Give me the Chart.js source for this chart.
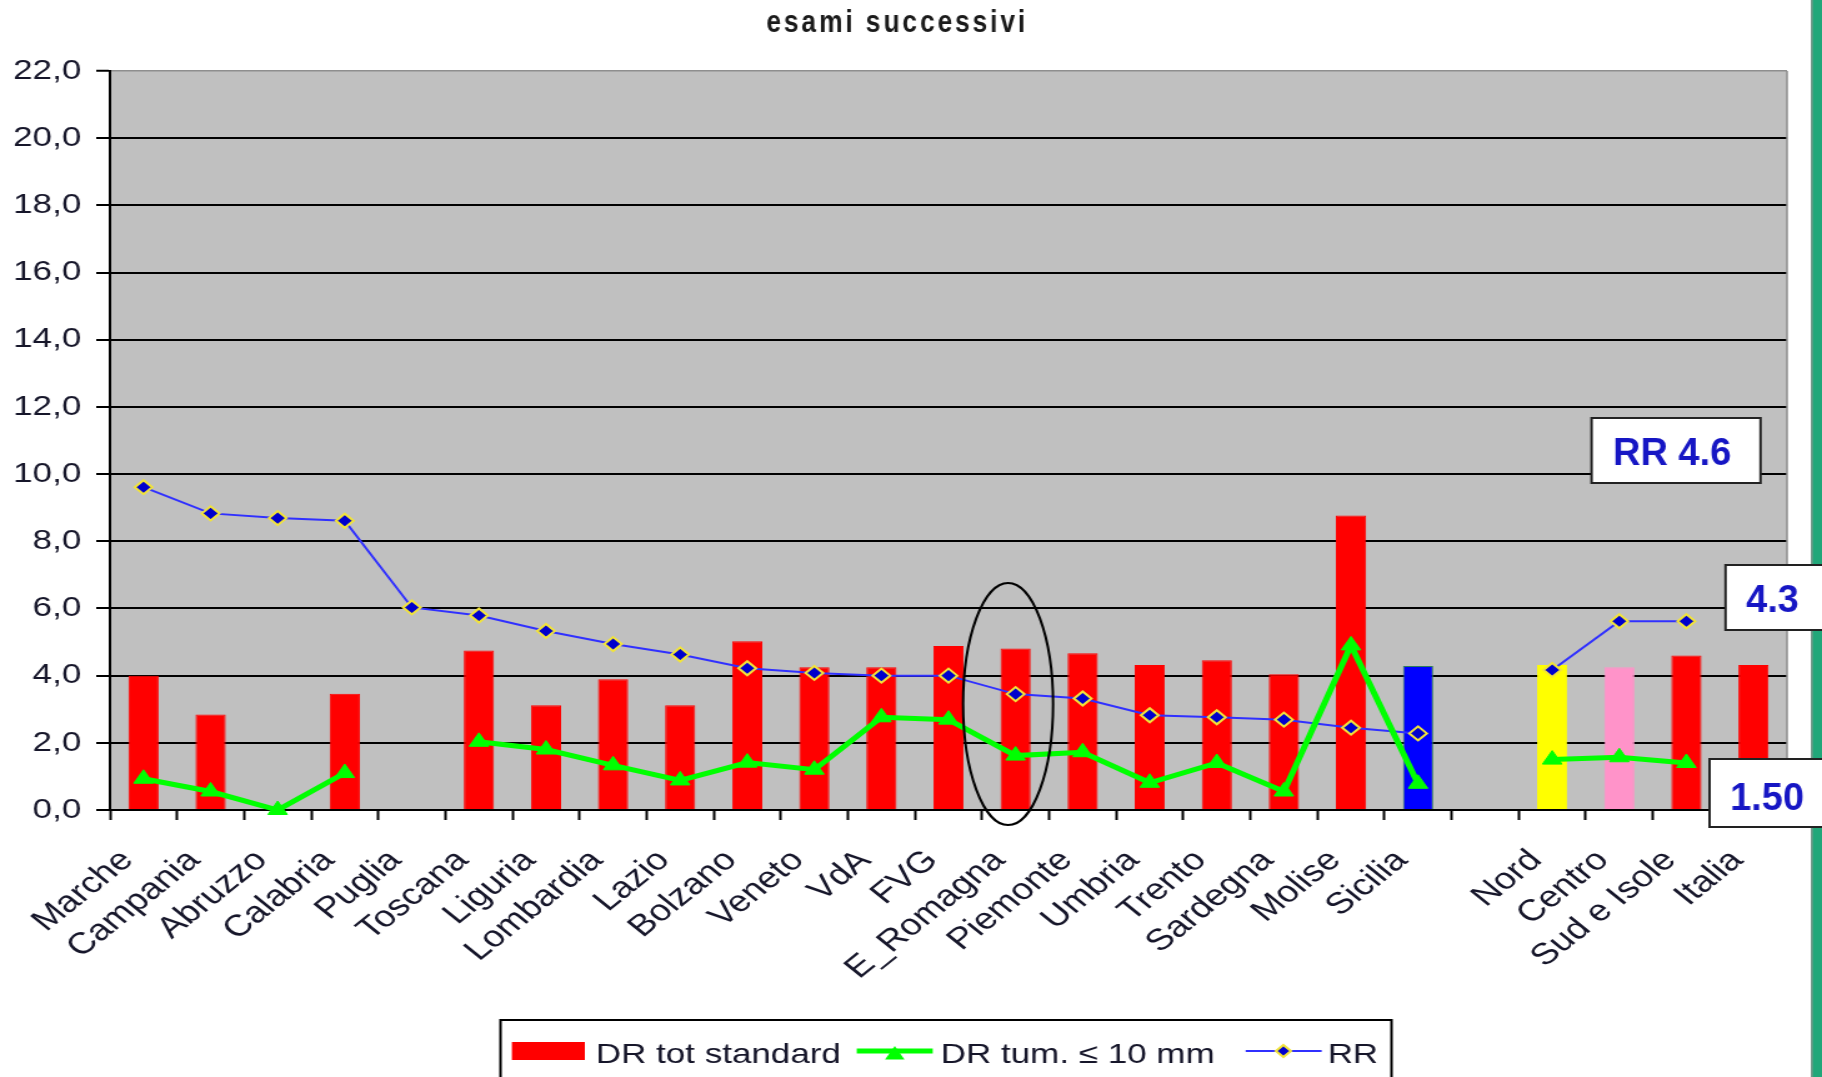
<!DOCTYPE html>
<html lang="it">
<head>
<meta charset="utf-8">
<title>esami successivi</title>
<script src="https://cdn.jsdelivr.net/npm/chart.js"></script>
<style>
  html, body { margin: 0; padding: 0; background: #fff; overflow: hidden; }
</style>
</head>
<body>
<!-- the source picture is stretched 1.25x horizontally, so the canvas is drawn narrow and stretched by CSS -->
<canvas id="chart" width="1458" height="1077" style="display:block;width:1822px;height:1077px"></canvas>
<script>
const categories = ['Marche', 'Campania', 'Abruzzo', 'Calabria', 'Puglia', 'Toscana', 'Liguria', 'Lombardia',
    'Lazio', 'Bolzano', 'Veneto', 'VdA', 'FVG', 'E_Romagna', 'Piemonte', 'Umbria', 'Trento', 'Sardegna',
    'Molise', 'Sicilia', '', 'Nord', 'Centro', 'Sud e Isole', 'Italia'];

const drTotStandard = [4.0, 2.84, null, 3.46, null, 4.75, 3.12, 3.89, 3.12, 5.02, 4.25, 4.25, 4.88, 4.81,
    4.67, 4.32, 4.46, 4.04, 8.77, 4.29, null, 4.32, 4.25, 4.6, 4.32];

const drTum10 = [0.93, 0.55, 0.0, 1.1, null, 2.03, 1.8, 1.33, 0.88, 1.41, 1.2, 2.76, 2.69, 1.62,
    1.72, 0.81, 1.4, 0.55, 4.9, 0.78, null, 1.5, 1.57, 1.4, null];

const rr = [9.61, 8.83, 8.69, 8.61, 6.03, 5.79, 5.33, 4.94, 4.63, 4.22, 4.08, 4.0, 4.0, 3.45,
    3.32, 2.82, 2.76, 2.69, 2.45, 2.28, null, 4.17, 5.62, 5.62, null];

const yTickValues = [0, 2, 4, 6, 8, 10, 12, 14, 16, 18, 20, 22];
const yTickLabels = ['0,0', '2,0', '4,0', '6,0', '8,0', '10,0', '12,0', '14,0', '16,0', '18,0', '20,0', '22,0'];

const chartTitle = 'esami successivi';
const boxLabels = ['RR 4.6', '4.3', '1.50'];

// colours of the bars (Sicilia, Nord and Centro stand out)
const barColors = categories.map(c => {
    if (c === 'Sicilia') return '#0000ff';
    if (c === 'Nord') return '#ffff00';
    if (c === 'Centro') return '#ff93c9';
    return '#ff0000';
});

const FONT = "'Liberation Sans', Arial, sans-serif";
const TEXT_COLOR = '#16162a';
const BOX_TEXT_COLOR = '#1616c4';

function narrowText(ctx, text, x, y, font, color, squeeze, spacing) {
    ctx.save();
    ctx.translate(x, y);
    ctx.scale(squeeze, 1);
    ctx.font = font;
    ctx.fillStyle = color;
    ctx.textAlign = 'center';
    ctx.textBaseline = 'alphabetic';
    if (spacing && 'letterSpacing' in ctx) ctx.letterSpacing = spacing;
    ctx.fillText(text, 0, 0);
    ctx.restore();
}

function trianglePath(ctx, x, y, r) {
    ctx.beginPath();
    ctx.moveTo(x, y - r);
    ctx.lineTo(x + r * 0.866, y + r * 0.5);
    ctx.lineTo(x - r * 0.866, y + r * 0.5);
    ctx.closePath();
}

function diamondPath(ctx, x, y, r) {
    ctx.beginPath();
    ctx.moveTo(x, y - r);
    ctx.lineTo(x + r, y);
    ctx.lineTo(x, y + r);
    ctx.lineTo(x - r, y);
    ctx.closePath();
}

function drawBox(ctx, x, y, w, h, text, tx, ty) {
    ctx.save();
    ctx.fillStyle = '#fff';
    ctx.strokeStyle = '#222';
    ctx.lineWidth = 2;
    ctx.fillRect(x, y, w, h);
    ctx.strokeRect(x, y, w, h);
    ctx.restore();
    narrowText(ctx, text, tx, ty, 'bold 38px ' + FONT, BOX_TEXT_COLOR, 0.8);
}

function drawLegend(chart) {
    const ctx = chart.ctx;
    const [greenSet, rrSet, barSet] = chart.data.datasets;
    ctx.save();
    ctx.fillStyle = '#fff';
    ctx.strokeStyle = '#000';
    ctx.lineWidth = 2;
    ctx.fillRect(400.5, 1020, 713, 80);
    ctx.strokeRect(400.5, 1020, 713, 80);

    ctx.font = '28px ' + FONT;
    ctx.textBaseline = 'alphabetic';
    ctx.textAlign = 'left';

    // bars
    ctx.fillStyle = '#ff0000';
    ctx.fillRect(409.6, 1042, 58.4, 18);
    ctx.fillStyle = TEXT_COLOR;
    ctx.fillText(barSet.label, 476.8, 1063);

    // DR tum line
    ctx.strokeStyle = greenSet.borderColor;
    ctx.lineWidth = 5;
    ctx.beginPath();
    ctx.moveTo(685.6, 1051);
    ctx.lineTo(746.4, 1051);
    ctx.stroke();
    ctx.fillStyle = greenSet.pointBackgroundColor;
    trianglePath(ctx, 716, 1055, 9);
    ctx.fill();
    ctx.fillStyle = TEXT_COLOR;
    ctx.fillText(greenSet.label, 752.8, 1063);

    // RR line
    ctx.strokeStyle = rrSet.borderColor;
    ctx.lineWidth = 2;
    ctx.beginPath();
    ctx.moveTo(996.8, 1051);
    ctx.lineTo(1057.6, 1051);
    ctx.stroke();
    ctx.fillStyle = rrSet.pointBackgroundColor;
    ctx.strokeStyle = rrSet.pointBorderColor;
    diamondPath(ctx, 1027, 1051, 6);
    ctx.fill();
    ctx.stroke();
    ctx.fillStyle = TEXT_COLOR;
    ctx.fillText(rrSet.label, 1062.4, 1063);
    ctx.restore();
}

const backdrop = {
    id: 'backdrop',
    beforeDraw(chart) {
        const { ctx, chartArea: a, width, height } = chart;
        ctx.save();
        ctx.fillStyle = '#fff';
        ctx.fillRect(0, 0, width, height);
        ctx.fillStyle = '#c0c0c0';
        ctx.fillRect(a.left, a.top, a.right - a.left, a.bottom - a.top);
        // slide frame on the right
        ctx.fillStyle = '#1d5540';
        ctx.fillRect(width - 8.6, 0, 1.2, height);
        ctx.fillStyle = '#21a779';
        ctx.fillRect(width - 7.4, 0, 7.4, height);
        ctx.restore();
    },
    beforeDatasetsDraw(chart) {
        const { ctx, chartArea: a } = chart;
        ctx.save();
        ctx.strokeStyle = '#8e8e8e';
        ctx.lineWidth = 1.5;
        ctx.beginPath();
        ctx.moveTo(a.right, a.top);
        ctx.lineTo(a.right, a.bottom);
        ctx.stroke();
        ctx.restore();
    },
    afterDraw(chart) {
        const ctx = chart.ctx;
        const x = chart.scales.x;
        const y = chart.scales.y;

        narrowText(ctx, chartTitle, 718, 32, 'bold 32px ' + FONT, '#1a1a1a', 0.66, '3.5px');

        // ellipse round E_Romagna
        const top = y.getPixelForValue(6.76);
        const bottom = y.getPixelForValue(-0.45);
        ctx.save();
        ctx.strokeStyle = '#000';
        ctx.lineWidth = 2;
        ctx.beginPath();
        ctx.ellipse(x.getPixelForValue(categories.indexOf('E_Romagna')) - 6, (top + bottom) / 2, 36, (bottom - top) / 2, 0, 0, Math.PI * 2);
        ctx.stroke();
        ctx.restore();

        drawBox(ctx, 1273.6, 418, 135.2, 65, boxLabels[0], 1338, 465);
        drawBox(ctx, 1380.8, 565, 100, 65, boxLabels[1], 1418.4, 612);
        drawBox(ctx, 1368, 759, 120, 68, boxLabels[2], 1414, 810);

        drawLegend(chart);
    }
};

function initChart() {
    const ctx = document.getElementById('chart');
    new Chart(ctx.getContext('2d'), {
        type: 'bar',
        data: {
            labels: categories,
            datasets: [
                {
                    type: 'line',
                    label: 'DR tum. \u2264 10 mm',
                    data: drTum10,
                    borderColor: '#00ff00',
                    backgroundColor: '#00ff00',
                    borderWidth: 5,
                    pointStyle: 'triangle',
                    pointRadius: 9,
                    pointBackgroundColor: '#00ff00',
                    pointBorderColor: '#00ff00',
                    pointBorderWidth: 1,
                    tension: 0,
                    spanGaps: false,
                    clip: false,
                    order: 1
                },
                {
                    type: 'line',
                    label: 'RR',
                    data: rr,
                    borderColor: '#3030ff',
                    backgroundColor: '#0000cc',
                    borderWidth: 2,
                    pointStyle: 'rectRot',
                    pointRadius: 7,
                    pointBackgroundColor: '#0000cc',
                    pointBorderColor: '#f2e43a',
                    pointBorderWidth: 2,
                    tension: 0,
                    spanGaps: false,
                    clip: false,
                    order: 2
                },
                {
                    type: 'bar',
                    label: 'DR tot standard',
                    data: drTotStandard,
                    backgroundColor: barColors,
                    borderColor: barColors.map((c, i) => categories[i] === 'Sicilia' ? '#2e7d5b' : c),
                    borderWidth: 1,
                    barPercentage: 0.45,
                    categoryPercentage: 1,
                    order: 3
                }
            ]
        },
        options: {
            responsive: false,
            animation: false,
            devicePixelRatio: 1,
            events: [],
            layout: { padding: { top: 71, right: 28, left: 0, bottom: 0 } },
            plugins: {
                legend: { display: false },
                title: { display: false },
                tooltip: { enabled: false }
            },
            scales: {
                x: {
                    grid: { offset: true, drawOnChartArea: false, tickLength: 10, tickColor: '#000', tickWidth: 2, color: '#000' },
                    border: { color: '#000', width: 2 },
                    ticks: {
                        autoSkip: false,
                        minRotation: 45,
                        maxRotation: 45,
                        padding: 23,
                        labelOffset: -13,
                        color: TEXT_COLOR,
                        font: { family: FONT, size: 30 }
                    },
                    afterFit(scale) { scale.height = 267; }
                },
                y: {
                    min: 0,
                    max: 22,
                    ticks: {
                        stepSize: 2,
                        padding: 12,
                        color: TEXT_COLOR,
                        font: { family: FONT, size: 28 },
                        callback: v => yTickLabels[yTickValues.indexOf(v)]
                    },
                    grid: {
                        color: c => c.tick && c.tick.value === 22 ? '#8e8e8e' : '#000',
                        lineWidth: c => c.tick && c.tick.value === 22 ? 1.5 : 2,
                        tickLength: 11,
                        tickColor: '#000',
                        tickWidth: 2
                    },
                    border: { color: '#000', width: 2 },
                    afterFit(scale) { scale.width = 88; }
                }
            }
        },
        plugins: [backdrop]
    });
}

document.addEventListener('DOMContentLoaded', initChart);
</script>
</body>
</html>
